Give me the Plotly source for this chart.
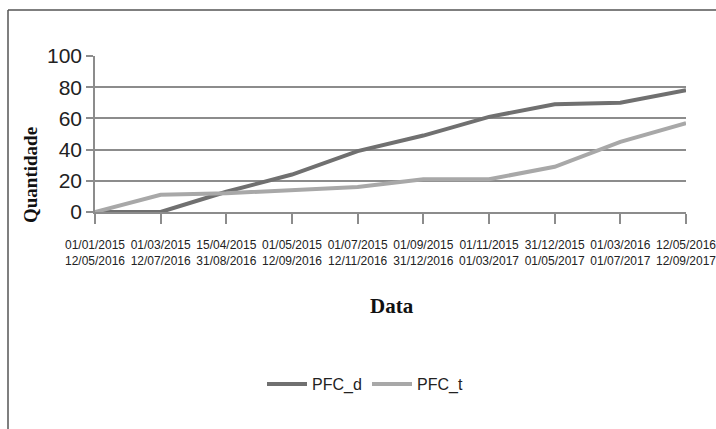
import plotly.graph_objects as go

# Category labels (two dates per tick) and the two series
dates_top = ["01/01/2015", "01/03/2015", "15/04/2015", "01/05/2015", "01/07/2015",
             "01/09/2015", "01/11/2015", "31/12/2015", "01/03/2016", "12/05/2016"]
dates_bottom = ["12/05/2016", "12/07/2016", "31/08/2016", "12/09/2016", "12/11/2016",
                "31/12/2016", "01/03/2017", "01/05/2017", "01/07/2017", "12/09/2017"]
pfc_d = [0, 0, 13, 24, 39, 49, 61, 69, 70, 78]
pfc_t = [0, 11, 12, 14, 16, 21, 21, 29, 45, 57]
y_ticks = [0, 20, 40, 60, 80, 100]

categories = [f"{a}<br>{b}" for a, b in zip(dates_top, dates_bottom)]
x_idx = list(range(len(categories)))

SANS = "Liberation Sans, Arial, sans-serif"
SERIF = "Liberation Serif, serif"
GRID = "#8c8c8c"

fig = go.Figure()
fig.add_trace(go.Scatter(x=x_idx, y=pfc_d, mode="lines", name="PFC_d",
                         line=dict(color="#707070", width=4)))
fig.add_trace(go.Scatter(x=x_idx, y=pfc_t, mode="lines", name="PFC_t",
                         line=dict(color="#a8a8a8", width=4)))

L, R, T, B = 95, 30, 56, 217
W, H = 716, 429
pw, ph = W - L - R, H - T - B


def px(xp):
    return (xp - L) / pw


def py(yp):
    return (H - B - yp) / ph


fig.update_layout(
    width=W, height=H,
    margin=dict(l=L, r=R, t=T, b=B, pad=0, autoexpand=False),
    paper_bgcolor="white", plot_bgcolor="white",
    showlegend=True,
    legend=dict(orientation="h", x=px(262), y=py(384), xanchor="left", yanchor="middle",
                font=dict(family=SANS, size=16, color="#222"),
                entrywidth=50, entrywidthmode="pixels", itemwidth=40,
                bgcolor="rgba(0,0,0,0)"),
    xaxis=dict(
        tickmode="array", tickvals=x_idx, ticktext=categories, tickangle=0,
        range=[0, len(categories) - 1], automargin=False,
        showgrid=False, showline=True, linecolor=GRID, linewidth=1.5,
        ticks="outside", ticklen=10, tickwidth=1.5, tickcolor=GRID,
        ticklabelstandoff=11, ticklabeloverflow="allow",
        tickfont=dict(family=SANS, size=12, color="#222"),
        zeroline=False,
    ),
    yaxis=dict(
        range=[0, 100], tickvals=y_ticks, automargin=False,
        showgrid=True, gridcolor=GRID, gridwidth=1.5,
        showline=True, linecolor=GRID, linewidth=1.5,
        ticks="outside", ticklen=7, tickwidth=1.5, tickcolor=GRID,
        tickfont=dict(family=SANS, size=21, color="#222"),
        zeroline=False,
    ),
    annotations=[
        dict(text="<b>Data</b>", x=px(392), y=py(306), xref="paper", yref="paper",
             showarrow=False, xanchor="center", yanchor="middle",
             font=dict(family=SERIF, size=21, color="#111")),
        dict(text="<b>Quantidade</b>", x=px(30), y=py(175), xref="paper", yref="paper",
             showarrow=False, xanchor="center", yanchor="middle", textangle=-90,
             font=dict(family=SERIF, size=19, color="#111")),
    ],
    shapes=[
        dict(type="line", xref="paper", yref="paper", x0=px(8), x1=px(716), y0=py(10), y1=py(10),
             line=dict(color="#555", width=1.5)),
        dict(type="line", xref="paper", yref="paper", x0=px(8), x1=px(8), y0=py(10), y1=py(429),
             line=dict(color="#555", width=1.5)),
    ],
)

fig.write_html("out.html")
